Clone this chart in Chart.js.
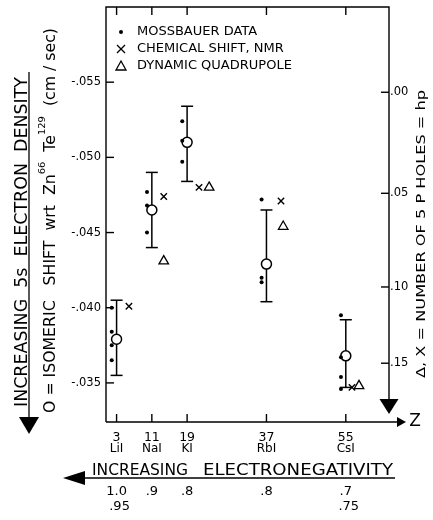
<!DOCTYPE html>
<html>
<head>
<meta charset="utf-8">
<script src="https://cdn.jsdelivr.net/npm/chart.js@4.4.1/dist/chart.umd.min.js"></script>
<style>
html, body { margin: 0; padding: 0; background: #fff; }
canvas { display: block; }
</style>
</head>
<body>
<canvas id="grafica" width="433" height="520"></canvas>
<script>
// Compuestos y número atómico Z del alcalino
const compuestos = ['LiI', 'NaI', 'KI', 'RbI', 'CsI'];
const valoresZ = [3, 11, 19, 37, 55];

// Corrimiento isomérico medio (cm/sec) con sus barras de error
const corrimientoMedio = [-0.0379, -0.0465, -0.0510, -0.0429, -0.0368];
const errorArriba = [-0.0405, -0.0490, -0.0534, -0.0465, -0.0392];
const errorAbajo = [-0.0355, -0.0440, -0.0484, -0.0404, -0.0347];

// Datos Mossbauer individuales, uno por medida
const datosMossbauer = [
    [-0.0400, -0.0384, -0.0375, -0.0365],
    [-0.0477, -0.0468, -0.0450],
    [-0.0524, -0.0511, -0.0497],
    [-0.0472, -0.0420, -0.0417],
    [-0.0395, -0.0367, -0.0354, -0.0346]
];

const zNMR = [5.8, 13.7, 21.7, 40.3, 56.4];
const corrimientoNMR = [-0.0401, -0.0474, -0.0480, -0.0471, -0.0347];
const zCuadrupolo = [null, 13.7, 24.0, 40.8, 58.0];
const corrimientoCuadrupolo = [null, -0.0431, -0.0480, -0.0454, -0.0348];

// Marcas de los ejes
const ticksIzquierda = [-0.055, -0.050, -0.045, -0.040, -0.035];
const etiquetasIzquierda = ['-.055', '-.050', '-.045', '-.040', '-.035'];
const etiquetasHuecos = ['.00', '.05', '.10', '.15'];
const posicionHuecos = [-0.05433, -0.04761, -0.04138, -0.03631];
const electronegatividad = ['1.0', '.9', '.8', '.8', '.7'];
const electronegatividad2 = ['.95', '', '', '', '.75'];

const fuente = '"DejaVu Sans"';
const corrimientoPuntos = 1.1; // los puntos Mossbauer van un poco a la izquierda de la barra

// Función para dibujar un triángulo relleno (puntas de flecha)
function triangulo(ctx, p1, p2, p3) {
    ctx.beginPath();
    ctx.moveTo(p1[0], p1[1]);
    ctx.lineTo(p2[0], p2[1]);
    ctx.lineTo(p3[0], p3[1]);
    ctx.closePath();
    ctx.fill();
}

function linea(ctx, x1, y1, x2, y2) {
    ctx.beginPath();
    ctx.moveTo(x1, y1);
    ctx.lineTo(x2, y2);
    ctx.stroke();
}

// Texto estirado o comprimido para ocupar un ancho dado
function textoAjustado(ctx, texto, x, y, ancho, tamano, angulo) {
    ctx.save();
    ctx.translate(x, y);
    ctx.rotate(angulo || 0);
    ctx.font = tamano + 'px ' + fuente;
    ctx.textAlign = 'left';
    ctx.textBaseline = 'alphabetic';
    const w = ctx.measureText(texto).width;
    ctx.scale(ancho / w, 1);
    ctx.fillText(texto, 0, 0);
    ctx.restore();
}

// Texto con superíndices (Zn66 Te129)
function textoCompuesto(ctx, piezas, x, y, ancho, tamano, tamanoSup, angulo) {
    ctx.save();
    ctx.translate(x, y);
    ctx.rotate(angulo);
    ctx.textAlign = 'left';
    ctx.textBaseline = 'alphabetic';
    let total = 0;
    piezas.forEach(p => {
        ctx.font = (p.sup ? tamanoSup : tamano) + 'px ' + fuente;
        total += ctx.measureText(p.t).width;
    });
    ctx.scale(ancho / total, 1);
    let pos = 0;
    piezas.forEach(p => {
        ctx.font = (p.sup ? tamanoSup : tamano) + 'px ' + fuente;
        ctx.fillText(p.t, pos, p.sup ? -10 : 0);
        pos += ctx.measureText(p.t).width;
    });
    ctx.restore();
}

const pluginEjes = {
    id: 'ejes',
    beforeDatasetsDraw(chart) {
        const { ctx, chartArea: a, scales: { x, y } } = chart;
        ctx.save();
        ctx.strokeStyle = '#000';
        ctx.fillStyle = '#000';
        ctx.lineWidth = 1.4;

        // Marco y ejes
        ctx.beginPath();
        ctx.moveTo(a.left, a.bottom);
        ctx.lineTo(a.left, a.top);
        ctx.lineTo(a.right, a.top);
        ctx.lineTo(a.right, a.bottom - 20);
        ctx.moveTo(a.left, a.bottom);
        ctx.lineTo(a.right + 10, a.bottom);
        ctx.stroke();
        triangulo(ctx, [a.right - 9.5, a.bottom - 23], [a.right + 9.5, a.bottom - 23], [a.right, a.bottom - 8]);
        triangulo(ctx, [a.right + 8, a.bottom - 5], [a.right + 8, a.bottom + 5], [a.right + 17, a.bottom]);

        // Marcas de Z arriba y abajo
        valoresZ.forEach(z => {
            const px = x.getPixelForValue(z);
            linea(ctx, px, a.top, px, a.top + 8);
            linea(ctx, px, a.bottom, px, a.bottom - 8);
        });

        // Escala izquierda
        ctx.font = '11.5px ' + fuente;
        ctx.textAlign = 'right';
        ctx.textBaseline = 'middle';
        ticksIzquierda.forEach((v, i) => {
            const py = y.getPixelForValue(v);
            linea(ctx, a.left, py, a.left + 8, py);
            ctx.fillText(etiquetasIzquierda[i], a.left - 5, py);
        });

        // Escala derecha (huecos 5p)
        ctx.textAlign = 'left';
        posicionHuecos.forEach((v, i) => {
            const py = y.getPixelForValue(v);
            linea(ctx, a.right, py, a.right - 8, py);
            ctx.fillText(etiquetasHuecos[i], a.right + 1, py);
        });

        // Barras de error
        ctx.lineWidth = 1.5;
        valoresZ.forEach((z, i) => {
            const px = x.getPixelForValue(z);
            const y1 = y.getPixelForValue(errorArriba[i]);
            const y2 = y.getPixelForValue(errorAbajo[i]);
            linea(ctx, px, y1, px, y2);
            linea(ctx, px - 6, y1, px + 6, y1);
            linea(ctx, px - 6, y2, px + 6, y2);
        });
        ctx.restore();
    },
    afterDraw(chart) {
        const { ctx, chartArea: a, scales: { x } } = chart;
        ctx.save();
        ctx.strokeStyle = '#000';
        ctx.fillStyle = '#000';
        ctx.lineWidth = 1.3;

        // Leyenda dentro del gráfico
        const sx = a.left + 15;
        const tx = a.left + 31;
        ctx.beginPath();
        ctx.arc(sx, a.top + 25, 2, 0, Math.PI * 2);
        ctx.fill();
        linea(ctx, sx - 4, a.top + 38, sx + 4, a.top + 46);
        linea(ctx, sx - 4, a.top + 46, sx + 4, a.top + 38);
        ctx.beginPath();
        ctx.moveTo(sx, a.top + 54);
        ctx.lineTo(sx + 5, a.top + 63);
        ctx.lineTo(sx - 5, a.top + 63);
        ctx.closePath();
        ctx.stroke();
        ctx.font = '13px ' + fuente;
        ctx.textAlign = 'left';
        ctx.textBaseline = 'middle';
        ctx.fillText('MOSSBAUER DATA', tx, a.top + 25);
        ctx.fillText('CHEMICAL SHIFT, NMR', tx, a.top + 42);
        ctx.fillText('DYNAMIC QUADRUPOLE', tx, a.top + 59);

        // Etiquetas del eje Z
        ctx.textAlign = 'center';
        valoresZ.forEach((z, i) => {
            const px = x.getPixelForValue(z);
            ctx.font = '12.5px ' + fuente;
            ctx.fillText(String(z), px, 438);
            ctx.font = '12px ' + fuente;
            ctx.fillText(compuestos[i], px, 449);
            ctx.font = '13px ' + fuente;
            ctx.fillText(electronegatividad[i], px, 492);
            if (electronegatividad2[i]) ctx.fillText(electronegatividad2[i], px + 3, 507);
        });
        ctx.font = '17px ' + fuente;
        ctx.fillText('Z', a.right + 26, a.bottom);

        // Flecha de electronegatividad
        linea(ctx, 82, 478, 395, 478);
        triangulo(ctx, [85, 471], [85, 485], [63, 478]);
        textoAjustado(ctx, 'INCREASING', 92, 475, 96, 16.5, 0);
        textoAjustado(ctx, 'ELECTRONEGATIVITY', 203, 475, 190, 16.5, 0);

        // Flecha vertical izquierda
        linea(ctx, 29, 72, 29, 420);
        triangulo(ctx, [19, 417], [39, 417], [29, 434]);
        textoAjustado(ctx, 'INCREASING  5s  ELECTRON  DENSITY', 27, 407, 330, 18, -Math.PI / 2);

        // Título del eje izquierdo
        textoCompuesto(ctx, [
            { t: 'O = ISOMERIC   SHIFT  wrt  Zn' },
            { t: '66', sup: true },
            { t: '  Te' },
            { t: '129', sup: true },
            { t: '  (cm / sec)' }
        ], 55, 413, 385, 15, 9.5, -Math.PI / 2);

        // Título del eje derecho
        textoAjustado(ctx, 'Δ, X = NUMBER OF 5 P HOLES = hp', 425, 378, 288, 13, -Math.PI / 2);
        ctx.restore();
    }
};

// Construir los puntos de cada serie
const puntosMossbauer = [];
datosMossbauer.forEach((serie, i) => {
    serie.forEach(v => puntosMossbauer.push({ x: valoresZ[i] - corrimientoPuntos, y: v }));
});
const puntosMedios = valoresZ.map((z, i) => ({ x: z, y: corrimientoMedio[i] }));
const puntosNMR = zNMR.map((z, i) => ({ x: z, y: corrimientoNMR[i] }));
const puntosCuadrupolo = [];
zCuadrupolo.forEach((z, i) => {
    if (z !== null) puntosCuadrupolo.push({ x: z, y: corrimientoCuadrupolo[i] });
});

const ctx = document.getElementById('grafica').getContext('2d');
window.grafica = new Chart(ctx, {
    type: 'scatter',
    data: {
        datasets: [
            {
                label: 'MOSSBAUER DATA',
                data: puntosMossbauer,
                pointRadius: 2,
                pointBackgroundColor: '#000',
                pointBorderWidth: 0
            },
            {
                label: 'ISOMERIC SHIFT',
                data: puntosMedios,
                pointRadius: 5,
                pointBackgroundColor: '#fff',
                pointBorderColor: '#000',
                pointBorderWidth: 1.5
            },
            {
                label: 'CHEMICAL SHIFT, NMR',
                data: puntosNMR,
                pointStyle: 'crossRot',
                pointRadius: 4.5,
                pointBorderColor: '#000',
                pointBorderWidth: 1.4
            },
            {
                label: 'DYNAMIC QUADRUPOLE',
                data: puntosCuadrupolo,
                pointStyle: 'triangle',
                pointRadius: 5.5,
                pointBackgroundColor: 'rgba(0,0,0,0)',
                pointBorderColor: '#000',
                pointBorderWidth: 1.3
            }
        ]
    },
    options: {
        responsive: false,
        animation: false,
        devicePixelRatio: 1,
        events: [],
        layout: { padding: { left: 106, right: 44, top: 7, bottom: 98 } },
        plugins: { legend: { display: false }, tooltip: { enabled: false } },
        scales: {
            x: { type: 'linear', display: false, min: 0.6, max: 64.8 },
            y: { type: 'linear', display: false, reverse: true, min: -0.0600, max: -0.0324 }
        }
    },
    plugins: [pluginEjes]
});
</script>
</body>
</html>
